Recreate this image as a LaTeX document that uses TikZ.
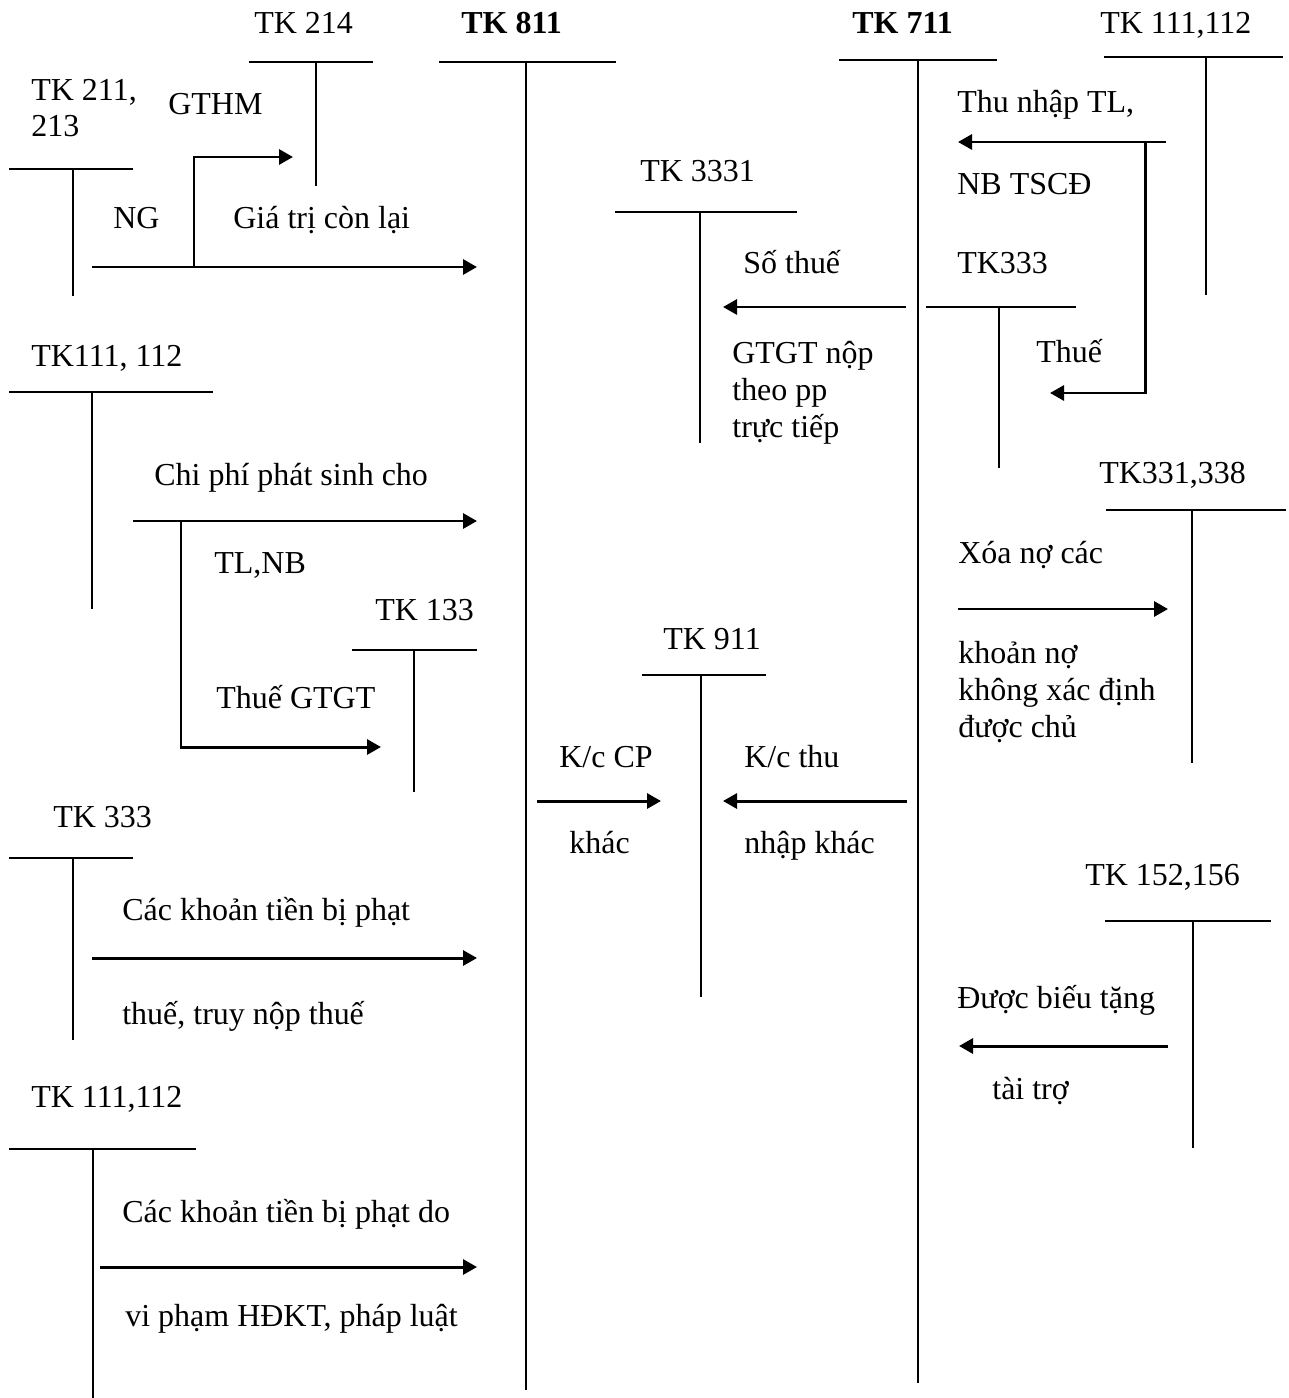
\documentclass[tikz,border=0pt]{standalone}
\usepackage{fontspec}
\setmainfont{Liberation Serif}
\usetikzlibrary{arrows.meta}

\tikzset{
  tline/.style={line width=1.1pt, black},
  flow/.style={line width=1.7pt, black, -{Triangle[length=2.8mm,width=3mm]}},
  lbl/.style={anchor=base west, inner sep=0pt, align=left, font=\fontsize{18.2}{21}\selectfont},
  blbl/.style={lbl, font=\fontsize{18.2}{21}\selectfont\bfseries}
}

% T account: x left, x right, y, x stem, y end
\newcommand{\tacc}[5]{\draw[tline] (#1,#3) -- (#2,#3) (#4,#3) -- (#4,#5);}

\begin{document}
\begin{tikzpicture}[x=0.02cm, y=-0.02cm]
\useasboundingbox (0,0) rectangle (1288,1398);

\tacc{249}{373}{62}{316}{186}
\tacc{439}{616}{62}{526}{1390}
\tacc{839}{997}{60}{918}{1383}
\tacc{1104}{1283}{57}{1206}{295}
\tacc{9}{133}{169}{73}{296}
\tacc{615}{797}{212}{700}{443}
\tacc{926}{1076}{307}{999}{468}
\tacc{9}{213}{392}{92}{609}
\tacc{352}{477}{650}{414}{792}
\tacc{1106}{1286}{510}{1192}{763}
\tacc{642}{766}{675}{701}{997}
\tacc{9}{133}{858}{73}{1040}
\tacc{1105}{1271}{921}{1193}{1148}
\tacc{9}{196}{1149}{93}{1398}

% multi-line labels sit on their last line
\node[lbl] (tk214) at (254,34) {TK 214};
\node[blbl] (tk811) at (461,34) {TK 811};
\node[blbl] (tk711) at (852,34) {TK 711};
\node[lbl] (tk111a) at (1100,34) {TK 111,112};
\node[lbl] (tk211) at (31,137) {TK 211,\\213};
\node[lbl] (gthm) at (168,115) {GTHM};
\node[lbl] (ng) at (113,229) {NG};
\node[lbl] (gtcl) at (233,229) {Giá trị còn lại};
\node[lbl] (tk111b) at (31,367) {TK111, 112};
\node[lbl] (chiphi) at (154,485) {Chi phí phát sinh cho};
\node[lbl] (tlnb) at (214,573) {TL,NB};
\node[lbl] (tk133) at (375,620) {TK 133};
\node[lbl] (thuegtgt) at (216,708) {Thuế GTGT};
\node[lbl] (tk333a) at (53,827) {TK 333};
\node[lbl] (phat) at (122,920) {Các khoản tiền bị phạt};
\node[lbl] (truynop) at (122,1024) {thuế, truy nộp thuế};
\node[lbl] (tk111c) at (31,1107) {TK 111,112};
\node[lbl] (phatdo) at (122,1222) {Các khoản tiền bị phạt do};
\node[lbl] (vipham) at (125,1326) {vi phạm HĐKT, pháp luật};

\node[lbl] (tk3331) at (640,182) {TK 3331};
\node[lbl] (sothue) at (743,274) {Số thuế};
\node[lbl] (gtgtnop) at (732,437) {GTGT nộp\\theo pp\\trực tiếp};
\node[lbl] (tk911) at (663,649) {TK 911};
\node[lbl] (kccp) at (559,767) {K/c CP};
\node[lbl] (khac) at (569,853) {khác};
\node[lbl] (kcthu) at (744,767) {K/c thu};
\node[lbl] (nhapkhac) at (744,853) {nhập khác};

\node[lbl] (thunhap) at (957,113) {Thu nhập TL,};
\node[lbl] (nbtscd) at (957,195) {NB TSCĐ};
\node[lbl] (tk333b) at (957,274) {TK333};
\node[lbl] (thue) at (1036,363) {Thuế};
\node[lbl] (tk331) at (1099,483) {TK331,338};
\node[lbl] (xoano) at (958,563) {Xóa nợ các};
\node[lbl] (khoanno) at (958,737) {khoản nợ\\không xác định\\được chủ};
\node[lbl] (tk152) at (1085,885) {TK 152,156};
\node[lbl] (bieutang) at (957,1008) {Được biếu tặng};
\node[lbl] (taitro) at (992,1099) {tài trợ};

\coordinate (ngS) at (92,267);
\coordinate (ngE) at (477,267);
\coordinate (gtS) at (194,267);
\coordinate (gtE) at (293,157);
\draw[flow] (ngS) -- (ngE);
\draw[flow] (gtS) |- (gtE);

\coordinate (cpS) at (133,521);
\coordinate (cpE) at (477,521);
\coordinate (vatS) at (181,521);
\coordinate (vatE) at (381,747);
\draw[flow] (cpS) -- (cpE);
\draw[flow] (vatS) |- (vatE);

\coordinate (phS) at (92,958);
\coordinate (phE) at (477,958);
\draw[flow] (phS) -- (phE);
\coordinate (vpS) at (100,1267);
\coordinate (vpE) at (477,1267);
\draw[flow] (vpS) -- (vpE);

\coordinate (kcS) at (537,801);
\coordinate (kcE) at (661,801);
\draw[flow] (kcS) -- (kcE);
\coordinate (ktS) at (907,801);
\coordinate (ktE) at (723,801);
\draw[flow] (ktS) -- (ktE);

\coordinate (stS) at (906,307);
\coordinate (stE) at (723,307);
\draw[flow] (stS) -- (stE);

\coordinate (tnS) at (1166,142);
\coordinate (tnE) at (958,142);
\coordinate (thS) at (1145,142);
\coordinate (thE) at (1050,393);
\draw[flow] (tnS) -- (tnE);
\draw[flow] (thS) |- (thE);

\coordinate (xnS) at (958,609);
\coordinate (xnE) at (1168,609);
\draw[flow] (xnS) -- (xnE);

\coordinate (btS) at (1168,1046);
\coordinate (btE) at (959,1046);
\draw[flow] (btS) -- (btE);

\end{tikzpicture}
\end{document}
